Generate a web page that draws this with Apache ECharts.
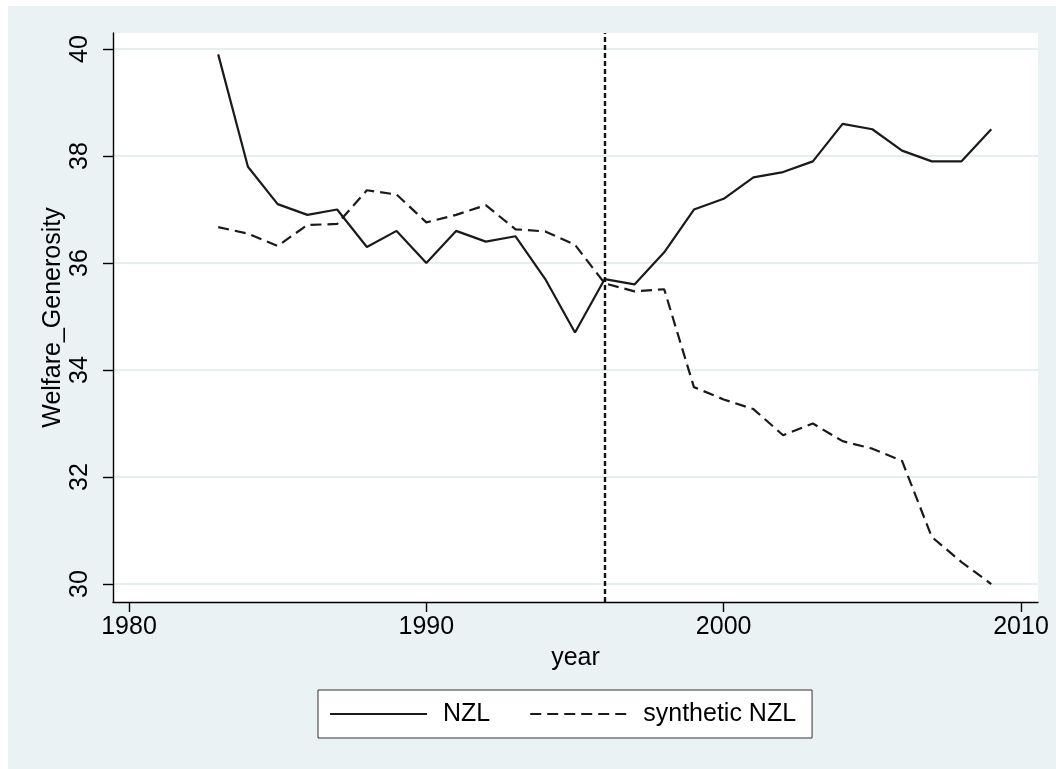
<!DOCTYPE html>
<html>
<head>
<meta charset="utf-8">
<title>Welfare Generosity - NZL vs synthetic NZL</title>
<script src="https://cdn.jsdelivr.net/npm/echarts@6.0.0/dist/echarts.min.js"></script>
<style>
	html, body { margin: 0; padding: 0; background: #ffffff; }
	#lineChart1 { position: absolute; left: 8px; top: 6px; width: 1048px; height: 763px; }
</style>
</head>
<body>
<div id="lineChart1"></div>
<script>
// data
var years = [1983, 1984, 1985, 1986, 1987, 1988, 1989, 1990, 1991, 1992, 1993, 1994, 1995, 1996,
	1997, 1998, 1999, 2000, 2001, 2002, 2003, 2004, 2005, 2006, 2007, 2008, 2009];
var nzl = [39.9, 37.8, 37.1, 36.9, 37.0, 36.3, 36.6, 36.0, 36.6, 36.4, 36.5, 35.7, 34.7, 35.7,
	35.6, 36.2, 37.0, 37.2, 37.6, 37.7, 37.9, 38.6, 38.5, 38.1, 37.9, 37.9, 38.5];
var synthNzl = [36.67, 36.55, 36.32, 36.71, 36.73, 37.36, 37.28, 36.76, 36.9, 37.08, 36.63, 36.59, 36.34, 35.62,
	35.47, 35.51, 33.68, 33.45, 33.27, 32.78, 33.0, 32.67, 32.53, 32.3, 30.88, 30.41, 30.0];
var xTicks = [1980, 1990, 2000, 2010];
var yTicks = [30, 32, 34, 36, 38, 40];
var treatYear = 1996;

var font = 'Liberation Sans, Arial, sans-serif';

function pairs(vals) {
	var out = [];
	for (var i = 0; i < years.length; i++) {
		out.push([years[i], vals[i]]);
	}
	return out;
}

var lineChart1 = echarts.init(document.getElementById('lineChart1'));

var option = {
	backgroundColor: '#eaf2f3',
	animation: false,
	textStyle: { fontFamily: font, color: '#000' },
	grid: {
		left: 105,
		right: 18,
		top: 27,
		bottom: 167,
		show: true,
		backgroundColor: '#ffffff',
		borderWidth: 0
	},
	legend: {
		left: 310,
		top: 684,
		padding: [11, 16, 11, 11],
		itemGap: 39,
		itemWidth: 97,
		itemHeight: 14,
		backgroundColor: '#ffffff',
		borderColor: '#333333',
		borderWidth: 1,
		borderRadius: 0,
		itemStyle: { opacity: 0 },
		textStyle: { fontFamily: font, fontSize: 25, color: '#000', lineHeight: 26, padding: [0, 0, 0, 11] },
		data: ['NZL', 'synthetic NZL']
	},
	xAxis: {
		type: 'value',
		min: 1979.462,
		max: 2010.572,
		name: 'year',
		nameLocation: 'middle',
		nameGap: 44,
		nameMoveOverlap: false,
		nameTextStyle: { fontFamily: font, fontSize: 25, color: '#000' },
		axisLine: { show: true, onZero: false, lineStyle: { color: '#000', width: 1.4 } },
		axisTick: { show: true, length: 10, customValues: xTicks, lineStyle: { color: '#000', width: 1.4 } },
		axisLabel: {
			customValues: xTicks,
			margin: 13,
			fontSize: 25,
			color: '#000',
			fontFamily: font,
			formatter: function (v) { return String(v); }
		},
		splitLine: { show: false }
	},
	yAxis: {
		type: 'value',
		min: 29.664,
		max: 40.299,
		name: 'Welfare_Generosity',
		nameLocation: 'middle',
		nameGap: 47,
		nameMoveOverlap: false,
		nameTextStyle: { fontFamily: font, fontSize: 25, color: '#000' },
		axisLine: { show: true, onZero: false, lineStyle: { color: '#000', width: 1.4 } },
		axisTick: { show: true, length: 10, customValues: yTicks, lineStyle: { color: '#000', width: 1.4 } },
		axisLabel: {
			customValues: yTicks,
			rotate: 90,
			margin: 20,
			fontSize: 25,
			color: '#000',
			fontFamily: font,
			formatter: function (v) { return String(v); }
		},
		splitLine: { show: true, lineStyle: { color: '#e6eef0', width: 2 } }
	},
	series: [
		{
			name: 'NZL',
			type: 'line',
			data: pairs(nzl),
			symbol: 'none',
			color: '#1a1a1a',
			lineStyle: { color: '#1a1a1a', width: 2.2, type: 'solid' },
			markLine: {
				silent: true,
				symbol: 'none',
				label: { show: false },
				lineStyle: { color: '#111111', width: 2.4, type: [5, 3] },
				data: [{ xAxis: treatYear }]
			}
		},
		{
			name: 'synthetic NZL',
			type: 'line',
			data: pairs(synthNzl),
			symbol: 'none',
			color: '#1a1a1a',
			lineStyle: { color: '#1a1a1a', width: 2.2, type: [11, 6] }
		}
	]
};

lineChart1.setOption(option);
</script>
</body>
</html>
